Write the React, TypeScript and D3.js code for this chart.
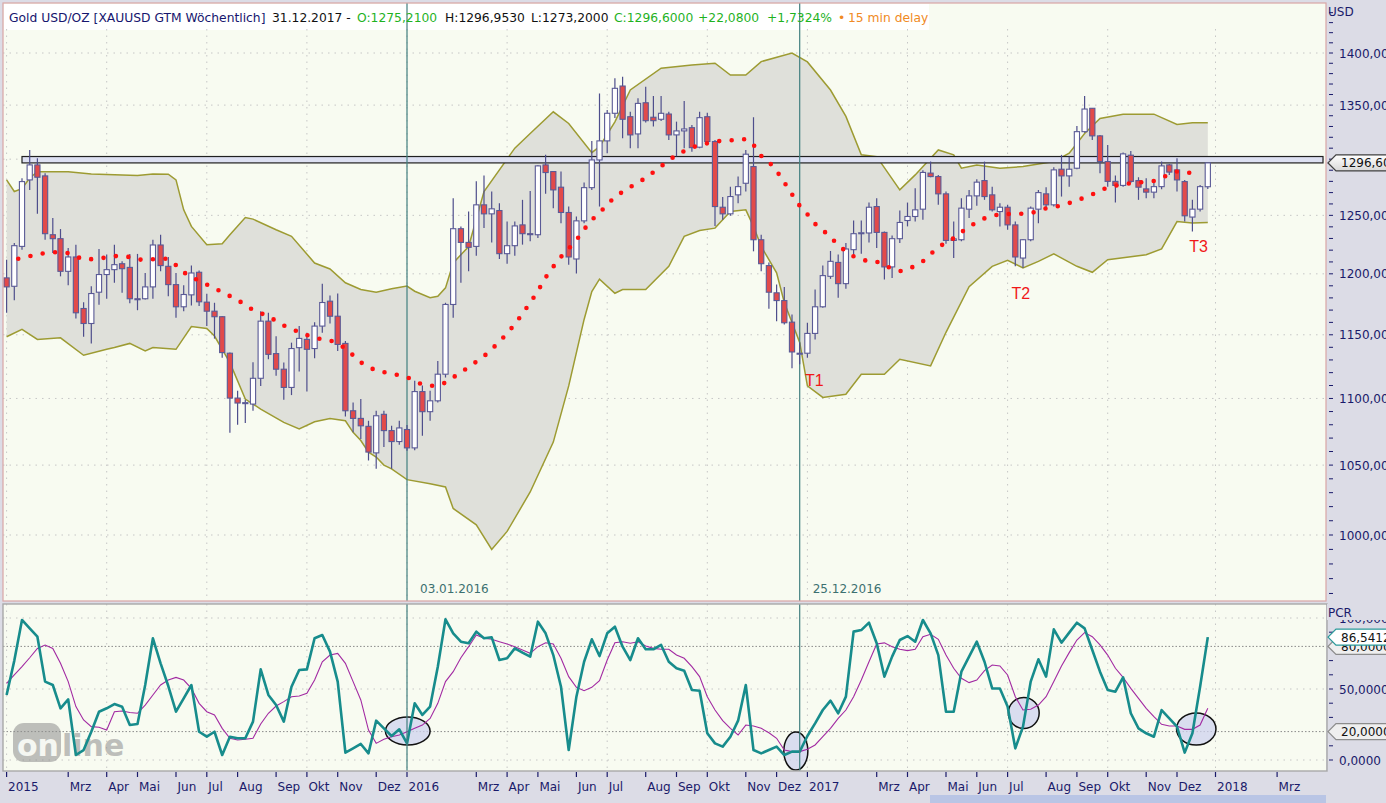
import React from "react";
import * as d3 from "d3";

const W = 1386;
const H = 803;

// ---------- data (weekly candles, first week 04.01.2015) ----------
const START = "2015-01-04";
const opens = [
  1196.6, 1189.6, 1223.2, 1281.3, 1294.8, 1284.9, 1233.2, 1229.8, 1202.1, 1214.2,
  1171.3, 1159.1, 1184.7, 1199.4, 1203.5, 1208.5, 1205.4, 1179.3, 1179.3, 1189.1,
  1224.4, 1206.3, 1191, 1172.7, 1182.5, 1201.3, 1176.5, 1169.1, 1164.6, 1135.3,
  1100.3, 1096.2, 1095.7, 1115.6, 1161, 1135, 1122.7, 1108.5, 1139.7, 1146.3,
  1139, 1157, 1177.3, 1165, 1143.1, 1090.6, 1084.8, 1078.8, 1059, 1087.9,
  1075.6, 1067.4, 1076.4, 1062.7, 1105.3, 1089.9, 1098.2, 1118.8, 1174.6, 1238.4,
  1226.6, 1223.2, 1259.2, 1251.3, 1254.2, 1217, 1223.8, 1241.7, 1234.1, 1233.2,
  1294.8, 1288.8, 1274.8, 1252.5, 1212.5, 1245.2, 1274.4, 1299.3, 1316.7, 1342.3,
  1368.1, 1339.1, 1323.1, 1352.2, 1338.6, 1336.7, 1341.6, 1322.2, 1325.9, 1328.9,
  1310.9, 1339.1, 1316.1, 1257.1, 1251.3, 1268, 1278.3, 1293.3, 1228.9, 1206.9,
  1184.2, 1177.8, 1160.2, 1135, 1135.3, 1151.1, 1172.7, 1197.9, 1209.6, 1191.8,
  1220.4, 1234.7, 1234.7, 1257.7, 1235.2, 1205.8, 1229.8, 1245.5, 1249, 1255.4,
  1287.4, 1284.3, 1268.9, 1228.3, 1228.9, 1255.4, 1267.1, 1280.7, 1268, 1253.3,
  1257.1, 1241.7, 1213.3, 1228.9, 1255.4, 1268.9, 1259.2, 1290.9, 1284.9, 1291.8,
  1325.2, 1347, 1321.3, 1297.8, 1280, 1276.4, 1303.6, 1280.7, 1273.3, 1270.4,
  1275.3, 1294.8, 1290.3, 1279.8, 1248.5, 1255.4, 1275.21,
];
const highs = [
  1211.9, 1226, 1282.8, 1308.4, 1300.8, 1287.3, 1247.6, 1238.1, 1221.9, 1224.7,
  1176.5, 1189.6, 1221, 1216.2, 1224.7, 1210.5, 1216.8, 1216.8, 1200.7, 1228.9,
  1233.2, 1214.2, 1200.7, 1190.5, 1206.9, 1202.7, 1183.4, 1176, 1165, 1135.8,
  1105.9, 1099, 1128.1, 1169.1, 1167.8, 1148.8, 1128, 1143.7, 1157, 1151.7,
  1160.2, 1191.7, 1182, 1183.6, 1145, 1097, 1099.5, 1083, 1090.6, 1090.6,
  1079.2, 1083, 1079.8, 1113.6, 1110, 1105.9, 1129.2, 1176, 1265.1, 1240.4,
  1253.3, 1280, 1285.2, 1271, 1260.7, 1244.6, 1244.6, 1263.6, 1271.5, 1294.5,
  1304, 1289.4, 1288.8, 1257.7, 1249, 1278.9, 1316.7, 1361, 1345.4, 1375.5,
  1377.1, 1343.8, 1356.4, 1367.4, 1358.6, 1358.6, 1343.8, 1334.5, 1353.9, 1331.4,
  1343.8, 1342.9, 1317.6, 1266, 1275.3, 1284.3, 1308.4, 1338.6, 1233.2, 1209.6,
  1191, 1189.1, 1166.4, 1143.9, 1159.7, 1186.9, 1206.9, 1219.3, 1216.2, 1226.1,
  1245.5, 1245.5, 1261.2, 1265.1, 1236, 1232.6, 1254.2, 1261.2, 1273.9, 1289.9,
  1297.8, 1285.8, 1271, 1244.6, 1265.1, 1272.4, 1282, 1297.8, 1275.3, 1260.7,
  1259.2, 1244.6, 1229.5, 1257.7, 1272.4, 1274.8, 1292.7, 1303.9, 1302.3, 1330.5,
  1358.6, 1347, 1322.2, 1313, 1285.2, 1306, 1307.5, 1283.7, 1282.8, 1281.3,
  1297.8, 1295.7, 1300.8, 1281.3, 1263.6, 1276.8, 1296.95,
];
const lows = [
  1167.8, 1178.1, 1220.4, 1272.4, 1251.3, 1228.9, 1217.6, 1197.9, 1190.5, 1163.2,
  1148.5, 1143.1, 1174.4, 1179.3, 1192.5, 1184.2, 1175.5, 1169.9, 1178.7, 1179.3,
  1202.1, 1181.4, 1163.8, 1169.1, 1173.8, 1173.3, 1157, 1146.9, 1131.8, 1073.9,
  1080, 1081.3, 1090.6, 1109.7, 1130.5, 1117.5, 1099, 1102.6, 1120.9, 1105.4,
  1131.3, 1151.7, 1159.1, 1137.1, 1086.3, 1074.3, 1069.4, 1053.4, 1047.3, 1063.3,
  1047.3, 1065, 1060.5, 1061, 1071.8, 1083, 1097, 1116.2, 1163.8, 1192.5,
  1202.1, 1215.3, 1239, 1226.6, 1212.5, 1208.5, 1215.3, 1224.7, 1227.5, 1230.4,
  1268.9, 1256.3, 1243.2, 1207.7, 1200.2, 1243.2, 1272.4, 1257.7, 1305.4, 1338,
  1319.2, 1309.9, 1309.9, 1333.6, 1329.9, 1335.2, 1317.6, 1302.6, 1309.9, 1306.8,
  1309.9, 1314.6, 1240.8, 1246.1, 1249.6, 1260.7, 1271, 1219, 1202.1, 1171.1,
  1161, 1158.3, 1123.5, 1126.5, 1131.8, 1146.3, 1171.9, 1195.8, 1180.1, 1187.5,
  1214.6, 1216.9, 1226.6, 1221.9, 1195.2, 1196.6, 1226.1, 1240.4, 1244.6, 1246.1,
  1283.7, 1259.2, 1225.5, 1213.3, 1227.5, 1247.6, 1258.4, 1263.6, 1253.3, 1240.4,
  1237.5, 1206.3, 1205, 1227.5, 1243.2, 1254.8, 1257.7, 1266.5, 1275.3, 1290.9,
  1324.3, 1317.6, 1287.3, 1275.3, 1261.2, 1275.3, 1278.6, 1263.6, 1264.9, 1264.9,
  1273, 1285.8, 1271, 1244.6, 1236, 1253.3, 1273.2,
];
const closes = [
  1189.1, 1223.8, 1279.8, 1294.8, 1283.7, 1234.1, 1229.8, 1202.1, 1214.2, 1167.8,
  1159.1, 1183.6, 1199.4, 1203.5, 1207.7, 1204.3, 1179.3, 1178.9, 1189.1, 1224.4,
  1206.9, 1191, 1172.7, 1182.8, 1200.7, 1176.8, 1169.1, 1164.6, 1135.8, 1100.3,
  1096.5, 1096.8, 1115.6, 1161, 1134.4, 1122.7, 1108.5, 1139, 1147.1, 1138.4,
  1157, 1176.2, 1165, 1142.3, 1090.6, 1084.8, 1079.2, 1059.6, 1086.8, 1075.6,
  1067.4, 1077.6, 1062.7, 1105.3, 1089.9, 1098.2, 1118.8, 1174.6, 1238.4, 1226.6,
  1222.4, 1259.2, 1251.3, 1255.7, 1217, 1223.8, 1240.8, 1234.1, 1233.6, 1293.9,
  1287.9, 1272.4, 1252.5, 1214.2, 1245.2, 1274.4, 1299.3, 1316.7, 1342.3, 1365.9,
  1336.7, 1322.2, 1351.6, 1335.4, 1335.4, 1342.3, 1322.2, 1325.9, 1327.7, 1310.5,
  1338.2, 1316.1, 1257.7, 1251.3, 1266.5, 1275.3, 1304.5, 1228.9, 1208.5, 1184.7,
  1177.8, 1159.7, 1136.3, 1135.3, 1151.1, 1172.7, 1198.5, 1210.5, 1191.8, 1221,
  1234.1, 1234.9, 1257.1, 1235.2, 1205.8, 1229.8, 1243.8, 1249, 1254.8, 1288,
  1284.3, 1268.9, 1228.3, 1229.6, 1256.3, 1267.1, 1279.3, 1266.5, 1254.8, 1257.1,
  1241.7, 1214.2, 1228.9, 1256.3, 1270, 1259.2, 1290.3, 1284.9, 1290.9, 1325.2,
  1346.3, 1321.3, 1297.8, 1280, 1276.4, 1304.8, 1280, 1274.8, 1270.4, 1275.3,
  1293.9, 1288.3, 1281.3, 1249.6, 1255.4, 1275.3, 1296.6,
];

// Bollinger band vertices [week index, price]
const bbUpper: [number, number][] = [
  [0, 1281.3], [1, 1271], [2, 1273.5], [3, 1283], [4, 1288.6], [8, 1288.6], [11, 1286.7], [17, 1285.2],
  [19, 1286.7], [21, 1286.4], [22, 1281.3], [23, 1254.8], [24, 1240.4], [26, 1224.6], [28, 1225.5],
  [29, 1233.2], [31, 1248.1], [32, 1246.7], [35, 1237.5], [37, 1231.8], [40, 1209.1], [42, 1204.1],
  [44, 1192.5], [46, 1186.9], [48, 1184.7], [50, 1187.5], [52, 1189.8], [53, 1185.5], [55, 1180.1],
  [56, 1181.4], [57, 1188.3], [58, 1209.1], [60, 1223.1], [62, 1271], [66, 1310], [68, 1323.5],
  [71, 1343.7], [73, 1332.8], [76, 1305.9], [77, 1311.4], [79, 1334.3], [81, 1364.3], [85, 1385.2],
  [89, 1388.4], [92, 1390.1], [94, 1378.6], [96, 1378.6], [98, 1391.6], [102, 1400], [104, 1391.3],
  [107, 1364.3], [109, 1339.4], [111, 1303.9], [113, 1302.3], [116, 1272.4], [118, 1285.8],
  [121, 1308.4], [123, 1303.9], [124, 1291.8], [126, 1294.8], [129, 1291.8], [132, 1293.3],
  [136, 1297.8], [138, 1305.4], [140, 1323.5], [142, 1337.5], [145, 1341.5], [149, 1341.5],
  [152, 1331.9], [154, 1333.4], [156, 1333.4],
];
const bbLower: [number, number][] = [
  [0, 1148.4], [2, 1154.3], [4, 1146.3], [7, 1147.6], [10, 1133.7], [13, 1138.4], [14, 1139.8],
  [16, 1143.1], [18, 1137.1], [19, 1139.8], [22, 1138.4], [24, 1156.6], [26, 1155], [27, 1149],
  [29, 1127.9], [31, 1099.5], [33, 1091.9], [36, 1081.8], [38, 1076.8], [40, 1082.3], [42, 1084.8],
  [44, 1083], [45, 1074.3], [46, 1068.2], [47, 1059.5], [48, 1055.9], [49, 1050], [50, 1047.3],
  [52, 1039.4], [55, 1036.5], [57, 1034.1], [58, 1018.7], [61, 1007.1], [63, 990], [65, 1002.5],
  [68, 1030.5], [71, 1067], [73, 1109.7], [75, 1162.4], [76, 1185.3], [77, 1195.5], [79, 1183.8],
  [80, 1186.9], [83, 1186.9], [86, 1206.3], [88, 1231.8], [90, 1236.9], [92, 1238.9], [93, 1246.1],
  [94, 1253.3], [96, 1254.8], [97, 1240.4], [98, 1223.1], [100, 1200.9], [101, 1176.3], [103, 1143.9],
  [104, 1109.7], [106, 1100.8], [109, 1103.3], [111, 1118.8], [114, 1118.8], [116, 1130.5],
  [120, 1125.3], [122, 1152], [125, 1189.3], [128, 1206.3], [130, 1211.4], [132, 1205], [134, 1210.5],
  [136, 1216.8], [139, 1206.3], [141, 1201.3], [143, 1211.9], [148, 1216.1], [150, 1221],
  [152, 1244.6], [154, 1243.3], [156, 1243.8],
];
// moving average (dotted red) vertices [week index, price]
const maLine: [number, number][] = [
  [1, 1212.3], [2, 1213.1], [4, 1216.6], [6, 1218.3], [8, 1217.6], [9, 1214.8], [10, 1211.9],
  [12, 1212.8], [14, 1215], [16, 1214.2], [17, 1212.3], [18, 1211.5], [20, 1213], [21, 1212.5],
  [22, 1207.3], [23, 1201.2], [24, 1197.7], [25, 1193.9], [26, 1191], [28, 1184.8], [30, 1178.3],
  [32, 1170.1], [34, 1164.9], [36, 1157.5], [38, 1152.1], [40, 1147.4], [42, 1145.7], [43, 1142.7],
  [44, 1139.2], [46, 1128.1], [48, 1121.4], [50, 1119.3], [52, 1116.5], [54, 1110.6], [55, 1109.6],
  [56, 1110.2], [57, 1112.2], [58, 1116.3], [60, 1124.3], [62, 1132.9], [64, 1144.3], [66, 1158.4],
  [68, 1176], [69, 1185.7], [70, 1196.9], [71, 1206], [72, 1214.3], [73, 1221.3], [74, 1228.6],
  [75, 1237.8], [76, 1246.1], [77, 1252.2], [78, 1259.2], [79, 1266.3], [81, 1275], [83, 1283],
  [85, 1293.6], [87, 1304], [89, 1310.7], [91, 1314.5], [93, 1317.1], [95, 1317.5], [96, 1318.4],
  [97, 1313.1], [98, 1303], [99, 1297.5], [100, 1289.4], [101, 1279.1], [102, 1268.5], [103, 1258.4],
  [104, 1251], [105, 1242.6], [107, 1231.5], [108, 1223.8], [110, 1214.7], [112, 1210.2],
  [113, 1210.2], [115, 1204.2], [116, 1202.2], [117, 1203.4], [119, 1210.5], [121, 1222.6],
  [123, 1230.2], [125, 1240.4], [127, 1247.4], [129, 1251.2], [131, 1251.1], [133, 1251.8],
  [135, 1256.2], [137, 1258.6], [139, 1263], [141, 1268.5], [143, 1274.7], [145, 1277.6],
  [147, 1278.9], [149, 1280.3], [150, 1283.1], [151, 1286.3], [152, 1288.9], [154, 1287.5],
  [155, 1288.9],
];

// PCR indicator (lower panel)
const pcrValues = [
  45.8, 70, 98.6, 92.7, 86.8, 55.2, 52.8, 36.4, 42.7, 3.5,
  7, 19.9, 34, 36.4, 39.4, 37.5, 24.6, 25.4, 52.8, 85.7,
  68.1, 52.1, 34, 43.4, 52.8, 19.9, 16.4, 19.9, 3.5, 16.4,
  15.3, 15.3, 27, 63.8, 45.8, 38.7, 27, 51.6, 63.4, 63.8,
  85.7, 88, 76.3, 55.2, 5.2, 8.2, 11.3, 4.7, 27.7, 22.3,
  16.9, 21.6, 11.7, 39.9, 31.7, 37.6, 65.7, 99.1, 89.2, 83.3,
  82.2, 90.4, 85.7, 86.4, 70.4, 71.6, 78.6, 75.6, 72.8, 97.4,
  89.2, 73.9, 51.6, 7, 44.6, 69.2, 85, 73.2, 89.2, 93.9,
  79.8, 70.4, 85.7, 78, 78, 81, 69.2, 64.6, 62.9, 49.3,
  48.8, 18.8, 11.7, 9.4, 16.4, 27.7, 52.8, 7, 4.7, 7,
  9.4, 3.5, 5.9, 5.9, 16.9, 25.8, 35.2, 41.8, 32.9, 44.6,
  90.4, 91.5, 96.7, 82.2, 58.7, 72.8, 84.5, 87.3, 83.3, 98.6,
  89.2, 73.9, 34, 34, 62.2, 72.8, 83.3, 69.2, 50.4, 50.4,
  37.6, 8.2, 23.5, 55.2, 70.9, 58.7, 92, 82.6, 89.7, 96.7,
  92.7, 77.5, 62.2, 49.3, 48.1, 58.2, 32.9, 22.3, 18.8, 16.4,
  35.2, 29.3, 23.5, 5.2, 18.8, 51.6, 86.5412,
];
const pcrSignal = [
  54, 60, 65.7, 72, 78.6, 81, 78.6, 68.1, 55.2, 37.6,
  28.2, 23.5, 23.1, 21.1, 34, 34.5, 33.5, 32.9, 38.7, 45.8,
  52.8, 56.3, 58.2, 56.3, 50.4, 39.9, 34, 31.7, 22.3, 15.3,
  14.1, 14.6, 15.3, 25.4, 32.9, 38, 41.1, 44.6, 45.1, 47,
  56.3, 69.2, 73.9, 75.1, 68.1, 55.2, 42.3, 21.1, 11.7, 14.6,
  16.4, 17.6, 19.9, 22.3, 24.6, 29.3, 39.9, 55.2, 62.2, 72,
  79.8, 88, 85.7, 85, 83.3, 81.7, 79.8, 77.5, 75.1, 79.8,
  82.6, 81.7, 71.6, 58.7, 51.2, 48.8, 51.2, 55.9, 70.4, 82.6,
  83.3, 82.2, 83.3, 80.3, 78.6, 78, 78, 73.9, 71.6, 65.7,
  58.7, 44.6, 35.2, 27.7, 22.3, 17.6, 24.6, 23.9, 22.3, 19.2,
  15.3, 7, 5.9, 5.9, 7.5, 10.6, 16.4, 22.3, 29.3, 35.2,
  44.6, 56.3, 69.2, 81.7, 82.5, 79.8, 78, 77, 78, 86.8,
  88.5, 85, 73.9, 64.6, 57.5, 54.5, 56.3, 62.9, 66.9, 66.2,
  59.9, 44.6, 35.2, 35.7, 38.7, 44.6, 55.2, 66.2, 75.6, 84.5,
  89.7, 86.8, 81, 73.9, 64.6, 58.2, 50.4, 43.4, 36.4, 30.5,
  25.1, 23.9, 23.9, 21.6, 21.6, 24.6, 36.4,
];

const priceTicks = [1000, 1050, 1100, 1150, 1200, 1250, 1300, 1350, 1400];
const pcrTicks = [0, 50, 100];
const pcrLevels = [20, 80];
const monthLabels = ["Jan", "Feb", "Mrz", "Apr", "Mai", "Jun", "Jul", "Aug", "Sep", "Okt", "Nov", "Dez"];
const markerWeeks = [52, 103];
const zonePrices = [1296.6, 1302.4];
const zoneStartWeek = 2;
const troughLabels = [
  { label: "T1", week: 103.7, price: 1110 },
  { label: "T2", week: 130.5, price: 1179.5 },
  { label: "T3", week: 153.6, price: 1218 },
];
const pcrCircles = [
  { week: 52.1, value: 20.4, rw: 2.9, rv: 9.9 },
  { week: 102.5, value: 6.3, rw: 1.56, rv: 13.4 },
  { week: 132.1, value: 33.1, rw: 2.0, rv: 10.9 },
  { week: 154.5, value: 21.8, rw: 2.56, rv: 11.3 },
];
const headerParts = [
  { x: 9, text: "Gold USD/OZ [XAUUSD GTM Wöchentlich]", color: "#16166e" },
  { x: 272, text: "31.12.2017 -", color: "#111111" },
  { x: 357, text: "O:1275,2100", color: "#1fb21f" },
  { x: 445, text: "H:1296,9530", color: "#111111" },
  { x: 531, text: "L:1273,2000", color: "#111111" },
  { x: 614, text: "C:1296,6000", color: "#1fb21f" },
  { x: 698, text: "+22,0800", color: "#1fb21f" },
  { x: 767, text: "+1,7324%", color: "#1fb21f" },
  { x: 838, text: "•", color: "#f08a24" },
  { x: 848, text: "15 min delay", color: "#f08a24" },
];

// ---------- layout ----------
const PL = 3, PR = 1326;
const MT = 3, MB = 601;
const LT = 604, LB = 771;
const FONT = "'DejaVu Sans', Tahoma, sans-serif";
const NAVY = "#1a1a6a";

const fmt = (v: number, d: number) => v.toFixed(d).replace(".", ",");

export default function App() {
  const t0 = new Date(START + "T00:00:00Z");
  const dates = opens.map((_, i) => d3.utcWeek.offset(t0, i));
  const x = d3.scaleUtc().domain([dates[0], dates[dates.length - 1]]).range([6.6, 1207.8]);
  const xw = (w: number) => x(new Date(t0.getTime() + w * 7 * 864e5));
  const y = d3.scaleLog().domain([1000, 1400]).range([535, 53]);
  const yr = d3.scaleLinear().domain([0, 100]).range([760, 618]);

  function interp(arr: [number, number][], w: number) {
    return d3.scaleLinear().domain(arr.map((a) => a[0])).range(arr.map((a) => a[1]))(w);
  }
  const bandWeeks = Array.from(new Set([...bbUpper.map((d) => d[0]), ...bbLower.map((d) => d[0])])).sort((a, b) => a - b);
  const bandArea = d3
    .area<number>()
    .x((w) => xw(w))
    .y0((w) => y(interp(bbLower, w)))
    .y1((w) => y(interp(bbUpper, w)));
  const lineP = d3.line<[number, number]>().x((d) => xw(d[0])).y((d) => y(d[1]));
  const linePcr = d3.line<number>().x((_, i) => x(dates[i])).y((v) => yr(v));

  // month ticks
  const monthTicks: { px: number; label: string; month: number }[] = [];
  for (let yy = 2015; yy <= 2018; yy++) {
    for (let m = 0; m < 12; m++) {
      if (m === 1) continue;
      const d = d3.utcSunday.ceil(new Date(Date.UTC(yy, m, 1)));
      const px = x(d);
      if (px < 3 || px > 1295) continue;
      monthTicks.push({ px, label: m === 0 ? String(yy) : monthLabels[m], month: m });
    }
  }
  const quarterTicks = monthTicks.filter((t) => t.month % 3 === 0);

  const minorPrice = d3.range(960, 1450, 10).filter((v) => y(v) > MT + 2 && y(v) < MB - 2);
  const minorPcr = d3.range(0, 101, 10);

  const callout = (cy: number, text: string, stroke: string, fill: string, key: string) => (
    <g key={key}>
      <path
        d={`M1328,${cy} L1336,${cy - 8} L1392,${cy - 8} L1392,${cy + 8} L1336,${cy + 8} Z`}
        fill={fill}
        stroke={stroke}
        strokeWidth={1.3}
      />
      <text x={1341} y={cy + 4.5} fontSize={12} fill="#111" fontFamily={FONT}>{text}</text>
    </g>
  );

  const last = closes.length - 1;

  return (
    <div style={{ position: "absolute", left: 0, top: 0, width: W, height: H, overflow: "hidden" }}>
      <svg width={W} height={H} viewBox={`0 0 ${W} ${H}`} style={{ display: "block" }}>
        <defs>
          <clipPath id="clipMain"><rect x={PL} y={MT} width={PR - PL} height={MB - MT} /></clipPath>
          <clipPath id="clipLow"><rect x={PL} y={LT} width={PR - PL} height={LB - LT} /></clipPath>
          <linearGradient id="calloutGrad" x1="0" y1="0" x2="0" y2="1">
            <stop offset="0" stopColor="#ffffff" />
            <stop offset="1" stopColor="#d8d8d8" />
          </linearGradient>
        </defs>
        <rect x={0} y={0} width={W} height={H} fill="#dcdce6" />

        {/* ---------- main panel ---------- */}
        <rect x={PL} y={MT} width={PR - PL} height={MB - MT} fill="#f8fbf1" />
        <g clipPath="url(#clipMain)">
          <rect x={PL + 1} y={MT + 1} width={925} height={26} fill="#ffffff" />
          {priceTicks.map((v) => (
            <line key={"hg" + v} x1={PL} x2={PR} y1={y(v)} y2={y(v)} stroke="#c6c6c6" strokeDasharray="1.5 5" />
          ))}
          {quarterTicks.map((t) => (
            <line key={"vg" + t.px} x1={t.px} x2={t.px} y1={MT + 26} y2={MB} stroke="#c6c6c6" strokeDasharray="1.5 5" />
          ))}
          <path d={bandArea(bandWeeks) || ""} fill="#dfe0da" />
          <path d={lineP(bbUpper) || ""} fill="none" stroke="#9d9b32" strokeWidth={1.5} />
          <path d={lineP(bbLower) || ""} fill="none" stroke="#9d9b32" strokeWidth={1.5} />
          <rect
            x={xw(zoneStartWeek)}
            y={y(zonePrices[1])}
            width={PR - 3 - xw(zoneStartWeek)}
            height={y(zonePrices[0]) - y(zonePrices[1])}
            fill="#dde0f2"
            stroke="#202020"
            strokeWidth={1.2}
          />
          {markerWeeks.map((w) => (
            <g key={"mk" + w}>
              <line x1={x(dates[w])} x2={x(dates[w])} y1={MT} y2={MB} stroke="#417f7f" strokeWidth={1.2} />
              <text x={x(dates[w]) + 13} y={593} fontSize={12} fill="#3c7070" fontFamily={FONT}>
                {d3.utcFormat("%d.%m.%Y")(dates[w])}
              </text>
            </g>
          ))}
          {opens.map((o, i) => {
            const c = closes[i];
            const cx = x(dates[i]);
            const up = c >= o;
            const top = y(Math.max(o, c));
            const bot = y(Math.min(o, c));
            return (
              <g key={"c" + i}>
                <line x1={cx} x2={cx} y1={y(highs[i])} y2={y(lows[i])} stroke="#4e4e8c" strokeWidth={1.2} />
                <rect
                  x={cx - 2.6}
                  y={top}
                  width={5.2}
                  height={Math.max(1, bot - top)}
                  fill={up ? "#ffffff" : "#e24a4a"}
                  stroke="#5a5a96"
                  strokeWidth={1.1}
                />
              </g>
            );
          })}
          <path
            d={lineP(maLine) || ""}
            fill="none"
            stroke="#ff1010"
            strokeWidth={4.6}
            strokeLinecap="round"
            strokeDasharray="0 12.5"
            strokeDashoffset={-4}
          />
          {troughLabels.map((t) => (
            <text key={t.label} x={xw(t.week)} y={y(t.price)} fontSize={16} fill="#f01818" fontFamily="'Liberation Sans', Arial, sans-serif">
              {t.label}
            </text>
          ))}
          {headerParts.map((h, i) => (
            <text key={"h" + i} x={h.x} y={22} fontSize={12.3} fill={h.color} fontFamily={FONT}>{h.text}</text>
          ))}
        </g>
        <rect x={PL} y={MT} width={PR - PL} height={MB - MT} fill="none" stroke="#d9a6a6" strokeWidth={1.2} />

        {/* price axis */}
        <text x={1328} y={16} fontSize={12} fill={NAVY} fontFamily={FONT}>USD</text>
        {minorPrice.map((v) => (
          <line key={"mp" + v} x1={1329} x2={1333} y1={y(v)} y2={y(v)} stroke={NAVY} strokeWidth={1} />
        ))}
        {priceTicks.map((v) => (
          <text key={"pl" + v} x={1339} y={y(v) + 4.5} fontSize={12} fill={NAVY} fontFamily={FONT}>{fmt(v, 4)}</text>
        ))}
        {callout(y(closes[last]), fmt(closes[last], 4), "#404040", "url(#calloutGrad)", "pc")}

        {/* ---------- lower panel ---------- */}
        <rect x={PL} y={LT} width={PR - PL} height={LB - LT} fill="#f8fbf1" />
        <g clipPath="url(#clipLow)">
          {pcrTicks.map((v) => (
            <line key={"lg" + v} x1={PL} x2={PR} y1={yr(v)} y2={yr(v)} stroke="#c6c6c6" strokeDasharray="1.5 5" />
          ))}
          {pcrLevels.map((v) => (
            <line key={"lv" + v} x1={PL} x2={PR} y1={yr(v)} y2={yr(v)} stroke="#8a8a8a" strokeDasharray="1.5 2" />
          ))}
          {quarterTicks.map((t) => (
            <line key={"lvg" + t.px} x1={t.px} x2={t.px} y1={LT} y2={LB} stroke="#c6c6c6" strokeDasharray="1.5 5" />
          ))}
          {/* watermark */}
          <g opacity={0.55}>
            <rect x={13} y={723} width={48} height={39} rx={11} fill="#8e8e8e" />
            <text x={17} y={756} fontSize={30} fontWeight="bold" fill="#f4f4f4" fontFamily="'DejaVu Sans', sans-serif">on</text>
            <text x={62} y={756} fontSize={30} fontWeight="bold" fill="#8e8e8e" fontFamily="'DejaVu Sans', sans-serif">line</text>
          </g>
          {pcrCircles.map((c, i) => (
            <ellipse
              key={"el" + i}
              cx={xw(c.week)}
              cy={yr(c.value)}
              rx={xw(c.week + c.rw) - xw(c.week)}
              ry={yr(0) - yr(c.rv)}
              fill="#cfd3ee"
              fillOpacity={0.75}
              stroke="#111"
              strokeWidth={1.5}
            />
          ))}
          <path d={linePcr(pcrSignal) || ""} fill="none" stroke="#a22aa2" strokeWidth={1.1} />
          <path d={linePcr(pcrValues) || ""} fill="none" stroke="#178c8c" strokeWidth={2.6} strokeLinejoin="round" />
          {markerWeeks.map((w) => (
            <line key={"lmk" + w} x1={x(dates[w])} x2={x(dates[w])} y1={LT} y2={LB} stroke="#417f7f" strokeWidth={1.2} />
          ))}
        </g>
        <rect x={PL} y={LT} width={PR - PL + 1} height={LB - LT} fill="none" stroke="#a8a8a8" strokeWidth={1.4} />

        {/* pcr axis */}
        {minorPcr.map((v) => (
          <line key={"mr" + v} x1={1329} x2={1333} y1={yr(v)} y2={yr(v)} stroke={NAVY} strokeWidth={1} />
        ))}
        {pcrTicks.map((v) => (
          <text key={"rl" + v} x={1339} y={yr(v) + 4.5} fontSize={12} fill={NAVY} fontFamily={FONT}>{fmt(v, 4)}</text>
        ))}
        <rect x={1327} y={604} width={59} height={16} fill="#dcdce6" />
        <text x={1328} y={617} fontSize={12} fill={NAVY} fontFamily={FONT}>PCR</text>
        {callout(yr(80), fmt(80, 4), "#8c8c8c", "#efefef", "c80")}
        {callout(yr(pcrValues[last]), fmt(pcrValues[last], 4), "#2a9a9a", "#ffffff", "cpcr")}
        {callout(yr(20), fmt(20, 4), "#8c8c8c", "#efefef", "c20")}

        {/* time axis */}
        {monthTicks.map((t) => (
          <g key={"mt" + t.px}>
            <line x1={t.px} x2={t.px} y1={772} y2={777} stroke={NAVY} strokeWidth={1.2} />
            <text x={t.px + 1.5} y={791} fontSize={12} fill={NAVY} fontFamily={FONT}>{t.label}</text>
          </g>
        ))}
        <rect x={930} y={795} width={396} height={8} fill="#b9c5e5" />
      </svg>
    </div>
  );
}
